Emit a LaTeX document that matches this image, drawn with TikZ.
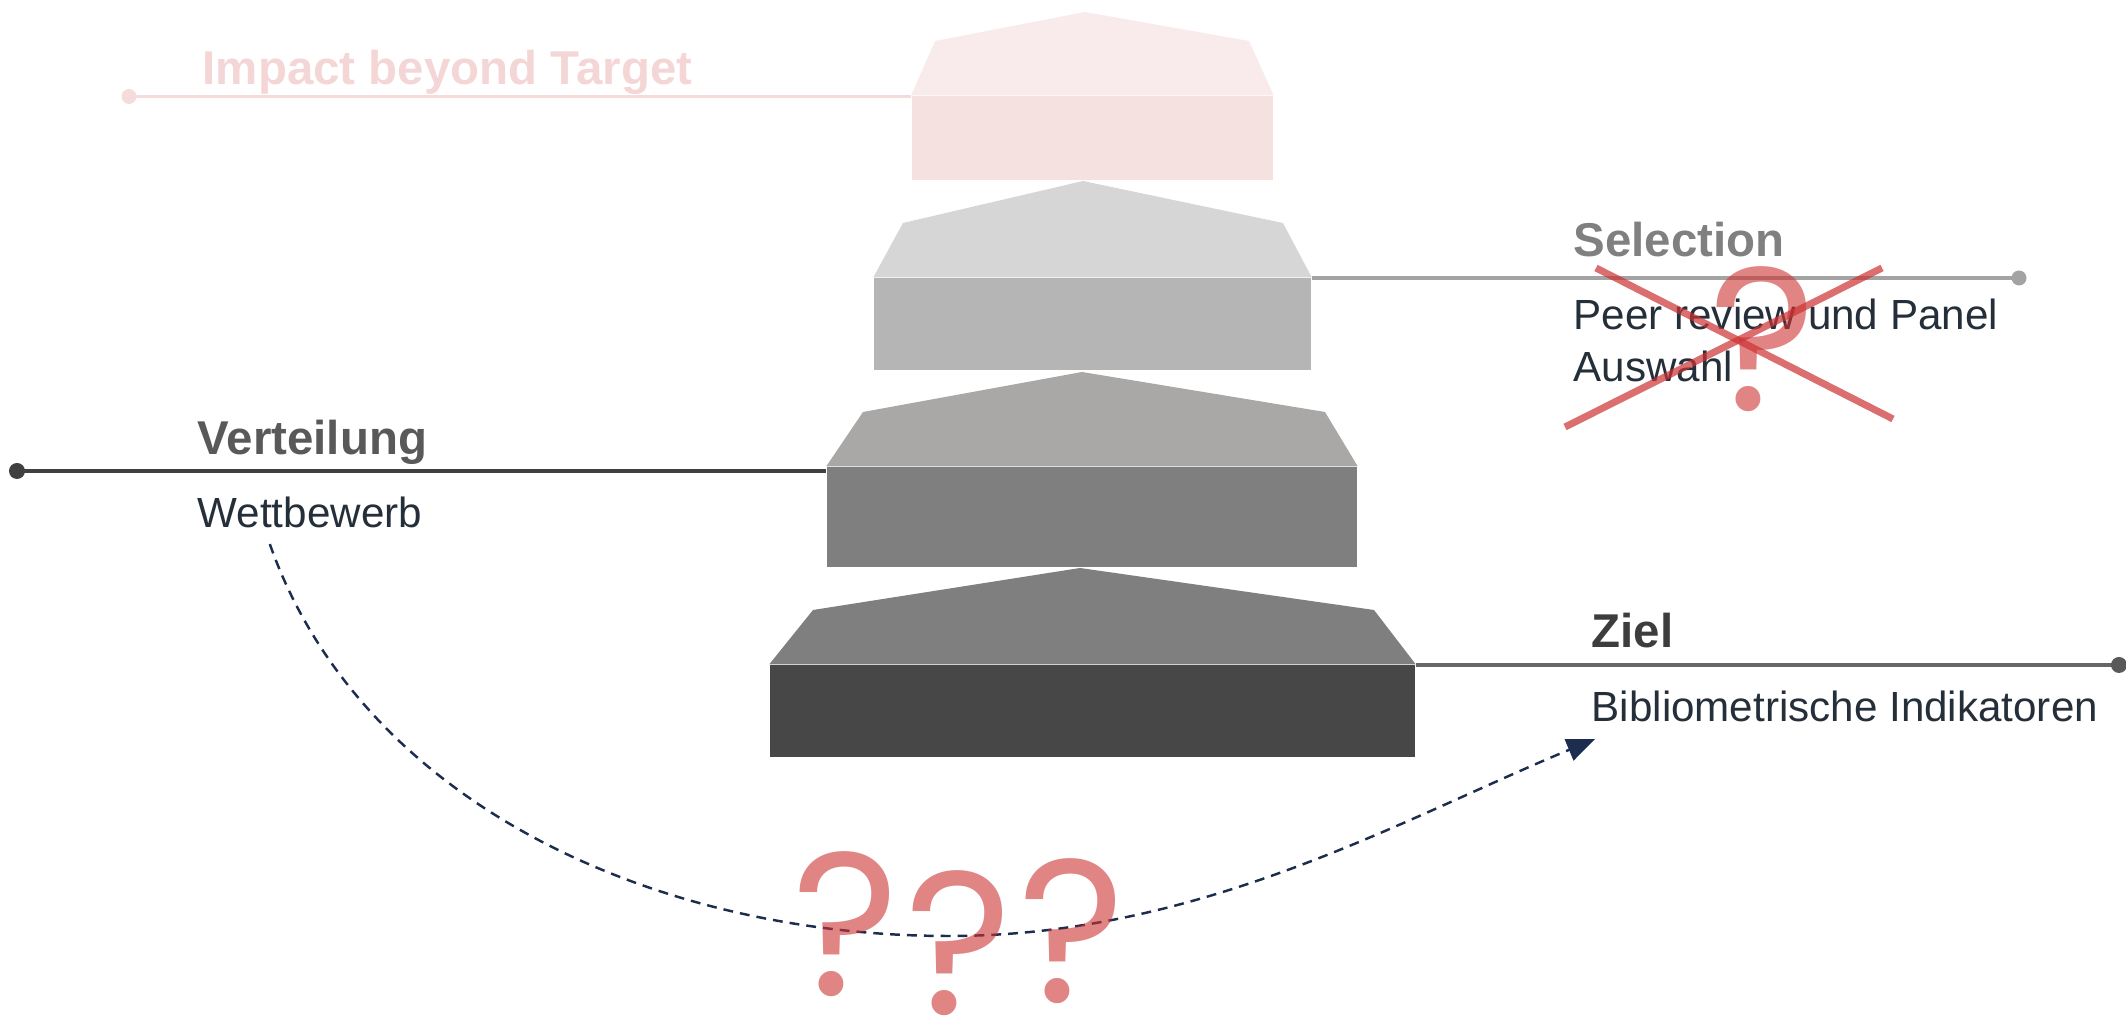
\documentclass[tikz,border=0pt]{standalone}
\usepackage{fontspec}
\setmainfont{Liberation Sans}
\newfontfamily\qfont{Poppins}
\usetikzlibrary{arrows.meta, positioning}
\definecolor{pinkroof}{HTML}{F9EBEB}
\definecolor{pinkbox}{HTML}{F6E1E1}
\definecolor{pinkline}{HTML}{F5DCDC}
\definecolor{pinktext}{HTML}{F4D6D6}
\definecolor{lightroof}{HTML}{D6D6D6}
\definecolor{lightbox}{HTML}{B5B5B5}
\definecolor{midroof}{HTML}{A9A8A7}
\definecolor{midbox}{HTML}{7F7F7F}
\definecolor{darkroof}{HTML}{7F7F7F}
\definecolor{darkbox}{HTML}{474747}
\definecolor{slatetext}{HTML}{252F3A}
\definecolor{arrownavy}{HTML}{1C2D50}
\definecolor{crossred}{HTML}{CC3232}

\begin{document}
\begin{tikzpicture}[
    block/.style={rectangle, inner sep=0pt, draw=none},
    headtext/.style={anchor=base west, inner sep=0pt, font=\fontsize{13.5}{16}\selectfont\bfseries},
    bodytext/.style={anchor=base west, inner sep=0pt, align=left, text=slatetext, font=\fontsize{12}{14.8}\selectfont},
    qmark/.style={anchor=base, inner sep=0pt, text=crossred, opacity=0.6, font=\qfont\fontsize{58}{58}\selectfont},
    crossline/.style={crossred, opacity=0.7, line width=2pt},
    dashconn/.style={arrownavy, line width=0.7pt, dash pattern=on 2.8pt off 2pt, -{Triangle[length=8pt,width=6.5pt]}}
]
\useasboundingbox (0,0) rectangle (21.26,-10.23);

% Stack of blocks
\node[block, fill=pinkbox, minimum width=3.61cm, minimum height=0.84cm] (b1) at (10.925,-1.38) {};
\fill[pinkroof] (b1.north west) -- (9.35,-0.41) -- (10.85,-0.12) -- (12.49,-0.41) -- (b1.north east) -- cycle;

\node[block, fill=lightbox, minimum width=4.37cm, minimum height=0.92cm] (b2) at (10.925,-3.24) {};
\fill[lightroof] (b2.north west) -- (9.03,-2.23) -- (10.83,-1.81) -- (12.83,-2.23) -- (b2.north east) -- cycle;

\node[block, fill=midbox, minimum width=5.30cm, minimum height=1.00cm] (b3) at (10.92,-5.17) {};
\fill[midroof] (b3.north west) -- (8.63,-4.12) -- (10.82,-3.72) -- (13.25,-4.12) -- (b3.north east) -- cycle;

\node[block, fill=darkbox, minimum width=6.45cm, minimum height=0.92cm] (b4) at (10.925,-7.11) {};
\fill[darkroof] (b4.north west) -- (8.13,-6.10) -- (10.80,-5.68) -- (13.74,-6.10) -- (b4.north east) -- cycle;

% Lines to the side labels
\coordinate (idot) at (1.29,-0.965);
\coordinate (sdot) at (20.19,-2.78);
\coordinate (vdot) at (0.17,-4.71);
\coordinate (zdot) at (21.19,-6.65);

\draw[pinkline, line width=1.1pt] (idot) -- (idot -| b1.west);
\fill[pinkline] (idot) circle (0.075);
\draw[lightbox!90!black, line width=1.1pt] (sdot) -- (sdot -| b2.east);
\fill[lightbox!90!black] (sdot) circle (0.075);
\draw[darkbox!90!black, line width=1.1pt] (vdot) -- (vdot -| b3.west);
\fill[darkbox!90!black] (vdot) circle (0.08);
\draw[black!60, line width=1.1pt] (zdot) -- (zdot -| b4.east);
\fill[black!65] (zdot) circle (0.08);

% Labels
\node[headtext, text=pinktext] (impact) at (2.02,-0.85) {Impact beyond Target};
\node[headtext, text=black!50] (selection) at (15.73,-2.57) {Selection};
\node[bodytext] (peer) at (15.73,-3.82) {Peer review und Panel\\Auswahl};
\node[headtext, text=black!65] (verteilung) at (1.97,-4.55) {Verteilung};
\node[bodytext] (wett) at (1.97,-5.28) {Wettbewerb};
\node[headtext, text=black!76] (ziel) at (15.91,-6.48) {Ziel};
\node[bodytext] (biblio) at (15.91,-7.22) {Bibliometrische Indikatoren};

% Dashed connection
\draw[dashconn] ([xshift=-4mm,yshift=-1.5mm]wett.south) .. controls (3.6,-8.0) and (6.5,-9.36) .. (9.49,-9.36) .. controls (12.0,-9.36) and (14.0,-8.2) .. ([xshift=0.4mm,yshift=-1.6mm]biblio.south west);

% Crossed out selection
\node[qmark] (qsel) at (17.63,-4.11) {?};
\draw[crossline] (15.96,-2.68) -- (18.93,-4.19);
\draw[crossline] (18.82,-2.68) -- (15.65,-4.27);

% Question marks
\node[qmark] (q1) at (8.46,-9.96) {?};
\node[qmark] (q2) at (9.59,-10.15) {?};
\node[qmark] (q3) at (10.72,-10.03) {?};
\end{tikzpicture}
\end{document}
